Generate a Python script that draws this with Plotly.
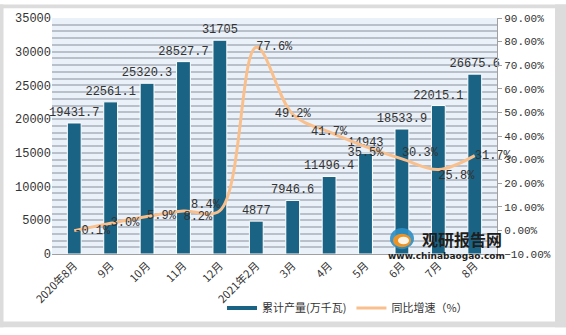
import plotly.graph_objects as go

categories = ["2020年8月", "9月", "10月", "11月", "12月", "2021年2月", "3月", "4月", "5月", "6月", "7月", "8月"]
production = [19431.7, 22561.1, 25320.3, 28527.7, 31705, 4877, 7946.6, 11496.4, 14943, 18533.9, 22015.1, 26675.6]
growth = [-0.1, 3.0, 5.9, 8.2, 8.4, 77.6, 49.2, 41.7, 35.5, 30.3, 25.8, 31.7]
growth_text = ["-0.1%", "3.0%", "5.9%", "8.2%", "8.4%", "77.6%", "49.2%", "41.7%", "35.5%", "30.3%", "25.8%", "31.7%"]
growth_pos = ["middle right", "middle right", "middle right", "bottom right", "top left", "middle right",
              "middle center", "middle center", "bottom center", "top right", "bottom right", "middle right"]

# left axis: gridline every 1000, label every 5000
y_grid = list(range(0, 35001, 1000))
y_text = [str(v) if v % 5000 == 0 else "" for v in y_grid]

MONO = "Liberation Mono, Noto Sans CJK SC"
BAR_COLOR = "#1A6384"
LINE_COLOR = "#F9C08E"

fig = go.Figure()
fig.add_trace(go.Bar(
    x=categories, y=production, name="累计产量(万千瓦)", showlegend=False,
    marker=dict(color=BAR_COLOR, line=dict(color="#FFFFFF", width=1)),
    text=[f"{v:g}" for v in production], textposition="outside",
    textfont=dict(family=MONO, size=12, color="#333333"),
    constraintext="none",
    cliponaxis=False,
))
# legend entry drawn as a line, like the reference
fig.add_trace(go.Scatter(
    x=[None], y=[None], name="累计产量(万千瓦)", mode="lines",
    line=dict(color=BAR_COLOR, width=4), showlegend=True,
))
fig.add_trace(go.Scatter(
    x=categories, y=growth, name="同比增速（%）", yaxis="y2",
    mode="lines+text", line=dict(color=LINE_COLOR, width=3, shape="spline", smoothing=1.0),
    text=growth_text, textposition=growth_pos,
    textfont=dict(family=MONO, size=12, color="#333333"),
    cliponaxis=False,
))

W, H = 566, 335
L, R, T, B = 52, 497, 14, 259
pw, ph = R - L, B - T

def px(x):
    return (x - L) / pw

def py(y):
    return (B - y) / ph

frame_color = "#DCDCDC"
shapes = [
    dict(type="rect", xref="paper", yref="paper", x0=px(0), x1=px(3.5), y0=py(H), y1=py(0),
         fillcolor=frame_color, line=dict(width=0), layer="below"),
    dict(type="rect", xref="paper", yref="paper", x0=px(555), x1=px(W), y0=py(H), y1=py(0),
         fillcolor=frame_color, line=dict(width=0), layer="below"),
    dict(type="rect", xref="paper", yref="paper", x0=px(0), x1=px(W), y0=py(4), y1=py(0),
         fillcolor=frame_color, line=dict(width=0), layer="below"),
    dict(type="rect", xref="paper", yref="paper", x0=px(0), x1=px(W), y0=py(H), y1=py(329),
         fillcolor=frame_color, line=dict(width=0), layer="below"),
    dict(type="circle", xref="paper", yref="paper", x0=px(390), x1=px(414), y0=py(254), y1=py(232),
         fillcolor="#2E8EC4", line=dict(width=0), layer="above", opacity=0.9),
    dict(type="circle", xref="paper", yref="paper", x0=px(393), x1=px(411), y0=py(252), y1=py(238),
         fillcolor="#F7941D", line=dict(width=0), layer="above", opacity=0.95),
    dict(type="circle", xref="paper", yref="paper", x0=px(398), x1=px(409), y0=py(249), y1=py(241),
         fillcolor="#FFFFFF", line=dict(width=0), layer="above", opacity=0.9),
]

annotations = [
    dict(text="<b>观研报告网</b>", xref="paper", yref="paper", x=px(462), y=py(243),
         xanchor="center", yanchor="middle",
         showarrow=False, font=dict(family="Noto Sans CJK SC", size=16, color="#1E1E1E")),
    dict(text="<b>www.chinabaogao.com</b>", xref="paper", yref="paper", x=px(446), y=py(261),
         xanchor="center", yanchor="middle",
         showarrow=False, font=dict(family="DejaVu Sans", size=9, color="#1E1E1E")),
]

fig.update_layout(
    width=W, height=H,
    margin=dict(l=L, r=W - R, t=T, b=H - B),
    paper_bgcolor="#FFFFFF", plot_bgcolor="#EBF1F8",
    bargap=0.62,
    showlegend=True,
    legend=dict(orientation="h", x=px(222), y=py(315), xanchor="left", yanchor="middle",
                font=dict(family="Noto Sans CJK SC", size=11, color="#333333"),
                itemwidth=30, bgcolor="rgba(0,0,0,0)"),
    xaxis=dict(type="category", tickangle=-45, showgrid=False, showline=True, linecolor="#A0A0A0",
               linewidth=1, ticks="",
               tickfont=dict(family="Noto Sans CJK SC", size=11, color="#333333")),
    yaxis=dict(range=[0, 35000], tickmode="array", tickvals=y_grid, ticktext=y_text,
               showgrid=True, gridcolor="#B9C0CA", gridwidth=1.5,
               showline=False, ticks="", zeroline=False,
               tickfont=dict(family=MONO, size=12, color="#333333")),
    yaxis2=dict(range=[-10, 90], dtick=10, tick0=0, overlaying="y", side="right", showgrid=False,
                showline=True, linecolor="#A0A0A0", linewidth=1, ticks="outside", ticklen=4,
                tickcolor="#A0A0A0", tickformat=".2f", ticksuffix="%", zeroline=False,
                tickfont=dict(family=MONO, size=11, color="#333333")),
    shapes=shapes,
    annotations=annotations,
)

fig.write_html("out.html")
